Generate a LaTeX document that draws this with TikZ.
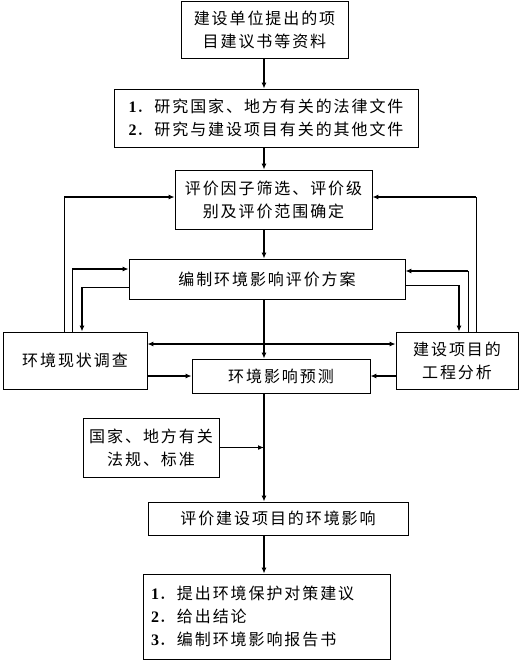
\documentclass[tikz,border=0pt]{standalone}
\usepackage{fontspec}
\setmainfont{Liberation Serif}
\newfontfamily\cjk{Noto Sans CJK SC}[LetterSpace=12]
\usetikzlibrary{arrows.meta}
\newcommand\nm[1]{{\rmfamily\bfseries #1}}
\tikzset{
  box/.style={draw, line width=0.8pt, inner sep=0pt, align=center,
    font=\cjk\fontsize{16}{23}\selectfont},
  tip/.style={-{Latex[length=6pt,width=5pt]}},
  dtip/.style={{Latex[length=6pt,width=5pt]}-{Latex[length=6pt,width=5pt]}},
  thk/.style={line width=1.8pt},
  mid/.style={line width=1.3pt},
  thn/.style={line width=0.8pt},
}
\begin{document}
\begin{tikzpicture}[x=1pt,y=-1pt]
\useasboundingbox (0,0) rectangle (523,662);
% boxes
\node[box, minimum width=167pt, minimum height=57pt] (b1) at (264.5,29.5)
  {建设单位提出的项\\目建议书等资料};
\node[box, minimum width=304pt, minimum height=58pt, align=left] (b2) at (266,118)
  {\nm{1}．研究国家、地方有关的法律文件\\\nm{2}．研究与建设项目有关的其他文件};
\node[box, minimum width=197pt, minimum height=59pt] (b3) at (273.5,199.5)
  {评价因子筛选、评价级\\别及评价范围确定};
\node[box, minimum width=276pt, minimum height=40pt] (b4) at (267,279)
  {编制环境影响评价方案};
\node[box, minimum width=144pt, minimum height=57pt] (b5) at (75,360.5)
  {环境现状调查};
\node[box, minimum width=122pt, minimum height=57pt] (b6) at (457,360.5)
  {建设项目的\\工程分析};
\node[box, minimum width=178pt, minimum height=34pt] (b7) at (281,376)
  {环境影响预测};
\node[box, minimum width=136pt, minimum height=59pt] (bg) at (151,447.5)
  {国家、地方有关\\法规、标准};
\node[box, minimum width=260pt, minimum height=33pt] (b8) at (278,518.5)
  {评价建设项目的环境影响};
\node[box, minimum width=247pt, minimum height=85pt, text width=231pt, align=left] (b9) at (266.5,616.5)
  {\nm{1}．提出环境保护对策建议\\\nm{2}．给出结论\\\nm{3}．编制环境影响报告书};
% coordinates
\coordinate (ax) at (264,0);
\coordinate (L1) at (64,197);
\coordinate (R1) at (476,197);
\coordinate (L2) at (72,269);
\coordinate (L3) at (82,287);
\coordinate (R2) at (468,271);
\coordinate (R3) at (459,285);
\coordinate (D) at (0,344);
% main axis
\draw[thk,tip] (b1.south -| ax) -- (b2.north -| ax);
\draw[thk,tip] (b2.south -| ax) -- (b3.north -| ax);
\draw[thk,tip] (b3.south -| ax) -- (b4.north -| ax);
\draw[mid,tip] (b4.south -| ax) -- (b7.north -| ax);
\draw[mid,tip] (b7.south -| ax) -- (b8.north -| ax);
\draw[mid,tip] (b8.south -| ax) -- (b9.north -| ax);
\draw[thk,tip] (bg.east) -- (bg.east -| ax);
% outer feedback
\draw[thn] (b5.north -| L1) -- (L1);
\draw[mid,tip] (L1) -- (L1 -| b3.west);
\draw[thn] (b6.north -| R1) -- (R1);
\draw[mid,tip] (R1) -- (R1 -| b3.east);
% inner loops
\draw[thn] (b5.north -| L2) -- (L2);
\draw[thk,tip] (L2) -- (L2 -| b4.west);
\draw[thn] (L3 -| b4.west) -- (L3);
\draw[thk,tip] (L3) -- (L3 |- b5.north);
\draw[thn] (b6.north -| R2) -- (R2);
\draw[thk,tip] (R2) -- (R2 -| b4.east);
\draw[thn] (R3 -| b4.east) -- (R3);
\draw[thk,tip] (R3) -- (R3 |- b6.north);
% cross links
\draw[thk,dtip] (b5.east |- D) -- (b6.west |- D);
\draw[thk,tip] (b5.east |- b7.west) -- (b7.west);
\draw[thk,tip] (b6.west |- b7.east) -- (b7.east);
\end{tikzpicture}
\end{document}
